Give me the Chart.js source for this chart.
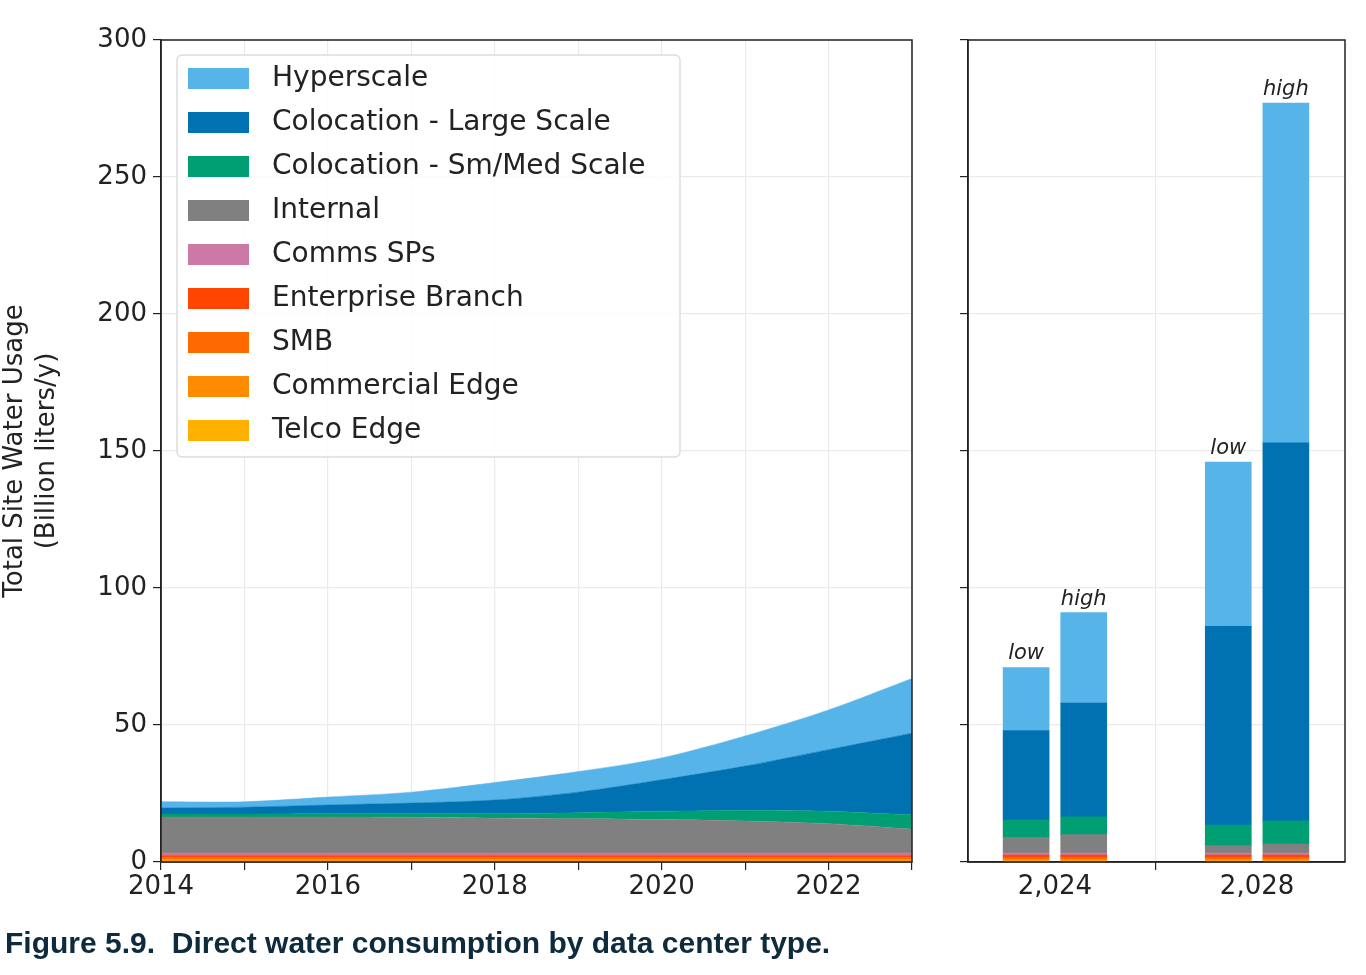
<!DOCTYPE html>
<html><head><meta charset="utf-8">
<script src="https://cdn.jsdelivr.net/npm/chart.js@4/dist/chart.umd.min.js"></script>
<style>
body{margin:0;background:#fff;width:1366px;height:975px;position:relative;overflow:hidden}
#left{position:absolute;left:0;top:0}
#right{position:absolute;left:930px;top:0}
#cap{position:absolute;left:5px;top:926px;font:bold 30px "Liberation Sans",Arial,sans-serif;color:#0d2b3c;white-space:pre}
</style></head><body>
<canvas id="left" width="925" height="930"></canvas>
<canvas id="right" width="430" height="930"></canvas>
<div id="cap">Figure 5.9.  Direct water consumption by data center type.</div>
<script>
const years = [2014, 2015, 2016, 2017, 2018, 2019, 2020, 2021, 2022, 2023];
const layerNames = ['Telco Edge', 'Commercial Edge', 'SMB', 'Enterprise Branch', 'Comms SPs', 'Internal', 'Colocation - Sm/Med Scale', 'Colocation - Large Scale', 'Hyperscale'];
const colors = ['#ffb000', '#ff8c00', '#ff6a00', '#ff4500', '#cc79a7', '#808080', '#009e73', '#0072b2', '#56b4e9'];
// historic, bottom to top
const hist = [
  [0.3, 0.3, 0.3, 0.3, 0.3, 0.3, 0.3, 0.3, 0.3, 0.3],
  [0.6, 0.6, 0.6, 0.6, 0.6, 0.6, 0.6, 0.6, 0.6, 0.6],
  [0.8, 0.8, 0.8, 0.8, 0.8, 0.8, 0.8, 0.8, 0.8, 0.8],
  [0.8, 0.8, 0.8, 0.8, 0.8, 0.8, 0.8, 0.8, 0.8, 0.8],
  [0.8, 0.8, 0.8, 0.8, 0.8, 0.8, 0.8, 0.8, 0.8, 0.8],
  [13.1, 13.1, 13.1, 13.0, 12.7, 12.5, 12.2, 11.7, 10.7, 8.7],
  [1.1, 1.1, 1.2, 1.3, 1.6, 2.2, 3.0, 3.8, 4.5, 5.2],
  [2.2, 2.5, 3.2, 3.9, 5.0, 7.5, 11.5, 16.2, 22.5, 29.8],
  [2.3, 2.0, 2.9, 4.0, 6.4, 7.5, 8.0, 11.0, 14.5, 20.0]
];
// projections: 2024 low, 2024 high, 2028 low, 2028 high
const barX = [2023.43, 2024.57, 2027.43, 2028.57];
const barTags = ['low', 'high', 'low', 'high'];
const proj = [
  [0.3, 0.3, 0.3, 0.3],
  [0.6, 0.6, 0.6, 0.6],
  [0.8, 0.8, 0.8, 0.8],
  [0.8, 0.8, 0.8, 0.8],
  [0.8, 0.8, 0.8, 0.8],
  [5.7, 6.7, 2.7, 3.2],
  [6.3, 6.5, 7.5, 8.5],
  [32.7, 41.5, 72.5, 138],
  [23, 33, 60, 124]
];
const yTicks = [0, 50, 100, 150, 200, 250, 300];

const FONT = 'DejaVu Sans';
Chart.defaults.font.family = FONT;
Chart.defaults.color = '#222';

const frame = {
  id: 'frame',
  afterDraw(c) {
    const a = c.chartArea, g = c.ctx;
    g.save(); g.strokeStyle = '#222'; g.lineWidth = 1.5;
    g.strokeRect(a.left, a.top, a.right - a.left, a.bottom - a.top);
    g.restore();
  }
};

const legendBox = {
  id: 'legendBox',
  afterDraw(c) {
    const g = c.ctx;
    g.save();
    g.fillStyle = 'rgba(255,255,255,0.85)';
    g.strokeStyle = '#ddd'; g.lineWidth = 1.5;
    g.beginPath(); g.roundRect(177, 55, 503, 402, 5); g.fill(); g.stroke();
    g.font = '28px ' + FONT; g.textBaseline = 'middle';
    for (let i = 0; i < layerNames.length; i++) {
      const k = layerNames.length - 1 - i, y = 78 + i * 44;
      g.fillStyle = colors[k]; g.fillRect(188, y - 10, 61, 21);
      g.fillStyle = '#222'; g.fillText(layerNames[k], 272, y + 1);
    }
    g.restore();
  }
};

const tagPlugin = {
  id: 'tags',
  afterDatasetsDraw(c) {
    const g = c.ctx, xs = c.scales.x, ys = c.scales.y;
    g.save(); g.font = 'italic 21px ' + FONT; g.textAlign = 'center'; g.fillStyle = '#222';
    barX.forEach((x, i) => {
      const tot = proj.reduce((s, l) => s + l[i], 0);
      g.fillText(barTags[i], xs.getPixelForValue(x), ys.getPixelForValue(tot) - 8);
    });
    g.restore();
  }
};

const grid = {color: '#ebebeb', lineWidth: 1.2, tickColor: '#222', tickLength: 8};

new Chart(document.getElementById('left'), {
  type: 'line',
  data: {
    datasets: hist.map((vals, k) => ({
      label: layerNames[k],
      data: vals.map((v, i) => ({x: years[i], y: v})),
      backgroundColor: colors[k],
      borderColor: colors[k],
      borderWidth: 0.5,
      pointRadius: 0,
      tension: 0.3,
      fill: k === 0 ? 'origin' : '-1'
    }))
  },
  options: {
    responsive: false, animation: false,
    layout: {padding: {top: 40, right: 13}},
    plugins: {legend: {display: false}, tooltip: {enabled: false}},
    scales: {
      x: {type: 'linear', min: 2014, max: 2023,
        afterBuildTicks: s => { s.ticks = years.map(v => ({value: v})); },
        ticks: {font: {size: 26}, maxRotation: 0, autoSkip: false, padding: 2,
          callback: v => (v % 2 === 0 ? String(v) : '')},
        grid: grid, border: {color: '#222', width: 1.5},
        afterFit: s => { s.height = 68; }},
      y: {stacked: true, min: 0, max: 300,
        afterBuildTicks: s => { s.ticks = yTicks.map(v => ({value: v})); },
        ticks: {font: {size: 26}, padding: 6},
        grid: grid, border: {color: '#222', width: 1.5},
        title: {display: true, text: ['Total Site Water Usage', '(Billion liters/y)'], font: {size: 26}, padding: 0},
        afterFit: s => { s.width = 161; }}
    }
  },
  plugins: [frame, legendBox]
});

new Chart(document.getElementById('right'), {
  type: 'bar',
  data: {
    datasets: proj.map((vals, k) => ({
      label: layerNames[k],
      data: vals.map((v, i) => ({x: barX[i], y: v})),
      backgroundColor: colors[k],
      barThickness: 46,
      stack: 's'
    }))
  },
  options: {
    responsive: false, animation: false,
    layout: {padding: {top: 40, right: 15}},
    plugins: {legend: {display: false}, tooltip: {enabled: false}},
    scales: {
      x: {type: 'linear', min: 2022.28, max: 2029.74, offset: false,
        afterBuildTicks: s => { s.ticks = [{value: 2024}, {value: 2028}]; },
        ticks: {font: {size: 26}, maxRotation: 0, padding: 2},
        grid: grid, border: {color: '#222', width: 1.5},
        afterFit: s => { s.height = 68; }},
      y: {stacked: true, min: 0, max: 300,
        afterBuildTicks: s => { s.ticks = yTicks.map(v => ({value: v})); },
        ticks: {callback: () => ''},
        grid: grid, border: {color: '#222', width: 1.5},
        afterFit: s => { s.width = 38; }}
    }
  },
  plugins: [frame, tagPlugin]
});
</script>
</body></html>
